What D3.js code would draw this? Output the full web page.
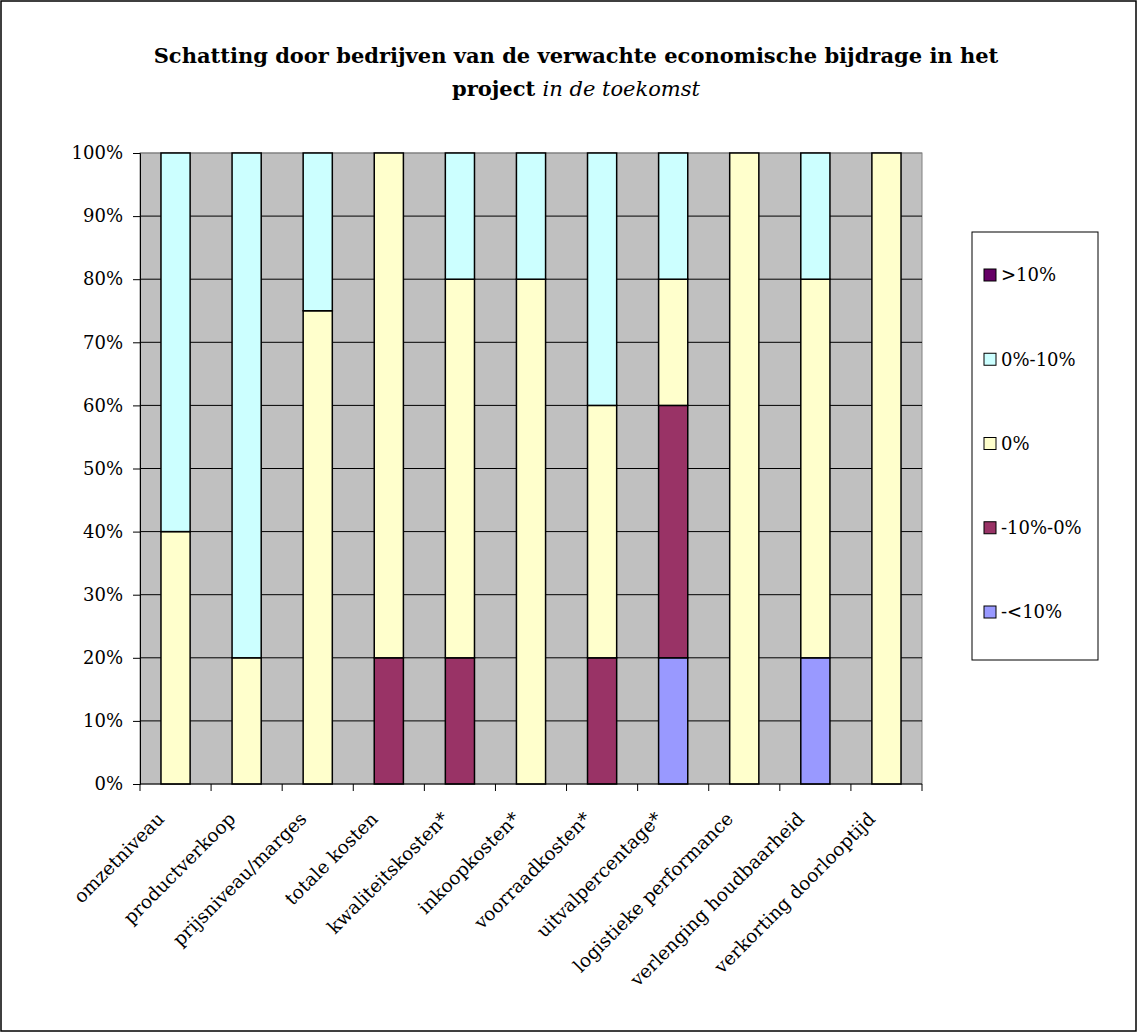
<!DOCTYPE html>
<html>
<head>
<meta charset="utf-8">
<script src="https://cdn.jsdelivr.net/npm/d3@7"></script>
<style>
  body { margin: 0; background: #fff; }
  svg text { font-family: "DejaVu Serif", serif; fill: #000; }
</style>
</head>
<body>
<svg id="chart" width="1138" height="1033"></svg>
<script>
const categories = [
  "omzetniveau", "productverkoop", "prijsniveau/marges", "totale kosten",
  "kwaliteitskosten*", "inkoopkosten*", "voorraadkosten*", "uitvalpercentage*",
  "logistieke performance", "verlenging houdbaarheid", "verkorting doorlooptijd"
];
// series listed bottom to top of each stack
const seriesNames = ["-<10%", "-10%-0%", "0%", "0%-10%", ">10%"];
const seriesColors = ["#9999FF", "#993366", "#FFFFCC", "#CCFFFF", "#660066"];
const lessThanMinus10 = [0, 0, 0, 0, 0, 0, 0, 20, 0, 20, 0];
const minus10To0 = [0, 0, 0, 20, 20, 0, 20, 40, 0, 0, 0];
const zero = [40, 20, 75, 80, 60, 80, 40, 20, 100, 60, 100];
const zeroTo10 = [60, 80, 25, 0, 20, 20, 40, 20, 0, 20, 0];
const moreThan10 = [0, 0, 0, 0, 0, 0, 0, 0, 0, 0, 0];
const yTicks = [0, 10, 20, 30, 40, 50, 60, 70, 80, 90, 100];

const seriesValues = [lessThanMinus10, minus10To0, zero, zeroTo10, moreThan10];
const rows = categories.map((c, i) => {
  const r = { cat: c };
  seriesNames.forEach((s, j) => (r[s] = seriesValues[j][i]));
  return r;
});
const stacked = d3.stack().keys(seriesNames)(rows);

const svg = d3.select("#chart");
svg.append("rect").attr("x", 1).attr("y", 1).attr("width", 1135).attr("height", 1030)
  .attr("fill", "#fff").attr("stroke", "#000").attr("stroke-width", 1.5);

const plot = { left: 140, right: 922, top: 153, bottom: 784 };
const x = d3.scaleBand().domain(categories).range([plot.left, plot.right]).padding(0);
const y = d3.scaleLinear().domain([0, 100]).range([plot.bottom, plot.top]);
const barW = x.bandwidth() * 0.41;

// plot background
svg.append("rect").attr("x", plot.left).attr("y", plot.top)
  .attr("width", plot.right - plot.left).attr("height", plot.bottom - plot.top)
  .attr("fill", "#C0C0C0").attr("stroke", "#808080").attr("stroke-width", 1);

// gridlines
svg.append("g").selectAll("line").data(yTicks.slice(1)).join("line")
  .attr("x1", plot.left).attr("x2", plot.right)
  .attr("y1", d => y(d)).attr("y2", d => y(d))
  .attr("stroke", d => d === 100 ? "#808080" : "#000").attr("stroke-width", 1);

// bars
svg.append("g").selectAll("g").data(stacked).join("g")
  .attr("fill", (d, i) => seriesColors[i])
  .selectAll("rect").data(d => d.filter(p => p[1] - p[0] > 0)).join("rect")
  .attr("x", d => x(d.data.cat) + (x.bandwidth() - barW) / 2)
  .attr("y", d => y(d[1]))
  .attr("width", barW)
  .attr("height", d => y(d[0]) - y(d[1]))
  .attr("stroke", "#000").attr("stroke-width", 1.5);

// y axis
const yAxis = svg.append("g").attr("transform", `translate(${plot.left},0)`)
  .call(d3.axisLeft(y).tickValues(yTicks).tickSize(7).tickPadding(10).tickFormat(d => d + "%"));
yAxis.select(".domain").attr("stroke", "#000");
yAxis.selectAll("text").attr("font-size", 18).attr("font-family", "DejaVu Serif");

// x axis baseline and ticks at category boundaries
const xAxis = svg.append("g");
xAxis.append("line").attr("x1", plot.left).attr("x2", plot.right)
  .attr("y1", plot.bottom).attr("y2", plot.bottom).attr("stroke", "#000");
const bounds = categories.map(c => x(c)).concat([plot.right]);
xAxis.selectAll("line.tick").data(bounds).join("line").attr("class", "tick")
  .attr("x1", d => d).attr("x2", d => d)
  .attr("y1", plot.bottom).attr("y2", plot.bottom + 7).attr("stroke", "#000");
xAxis.selectAll("text").data(categories).join("text")
  .attr("transform", d => `translate(${x(d) + x.bandwidth() / 2 - 10},${plot.bottom + 36}) rotate(-45)`)
  .attr("text-anchor", "end").attr("font-size", 18.5)
  .text(d => d);

// title
const title = svg.append("text").attr("x", 576).attr("text-anchor", "middle")
  .attr("font-size", 21).attr("font-weight", "bold");
title.append("tspan").attr("x", 576).attr("y", 63)
  .text("Schatting door bedrijven van de verwachte economische bijdrage in het");
const t2 = title.append("tspan").attr("x", 576).attr("y", 96);
t2.append("tspan").text("project ");
t2.append("tspan").attr("font-style", "italic").attr("font-weight", "normal").text("in de toekomst");

// legend
const legend = svg.append("g");
legend.append("rect").attr("x", 972).attr("y", 232).attr("width", 126).attr("height", 428)
  .attr("fill", "#fff").attr("stroke", "#000").attr("stroke-width", 1);
const legendItems = seriesNames.map((s, i) => ({ name: s, color: seriesColors[i] })).reverse();
const ly = d3.scalePoint().domain(legendItems.map(d => d.name)).range([275, 612]);
const li = legend.selectAll("g.item").data(legendItems).join("g").attr("class", "item")
  .attr("transform", d => `translate(984,${ly(d.name)})`);
li.append("rect").attr("x", 0).attr("y", -6).attr("width", 12).attr("height", 12)
  .attr("fill", d => d.color).attr("stroke", "#000").attr("stroke-width", 1);
li.append("text").attr("x", 17).attr("dy", "0.35em").attr("font-size", 18).text(d => d.name);
</script>
</body>
</html>
